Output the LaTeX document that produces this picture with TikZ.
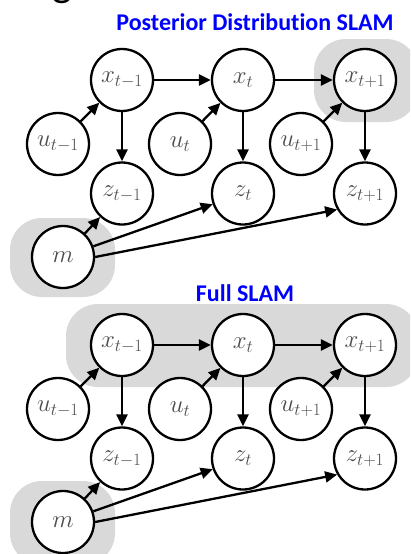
\documentclass[tikz,border=0pt]{standalone}
\usepackage{fontspec}
\newfontfamily\calibri[Ligatures={NoCommon}]{Carlito}
\usetikzlibrary{arrows.meta}
\definecolor{shade}{HTML}{D9D9D9}
\definecolor{titleblue}{RGB}{0,0,255}
\tikzset{
  var/.style={circle, draw=black, line width=2.3pt, fill=white,
    minimum size=62pt, inner sep=0pt,
    font=\fontsize{23}{25}\selectfont, text=black!70},
  edge/.style={line width=2.3pt, -{Triangle[length=12pt,width=11pt]}},
  blob/.style={fill=shade, rounded corners=32pt},
  heading/.style={text=titleblue, font=\calibri\bfseries\fontsize{24}{26}\selectfont}
}
% one time slice network: poses x, controls u, measurements z, map m
\newcommand\slamnet[1]{%
  \node[var] (#1x0) at (122,80)    {$x_{t-1}$};
  \node[var] (#1x1) at (243,80)    {$x_{t}$};
  \node[var] (#1x2) at (365,80)    {$x_{t+1}$};
  \node[var] (#1u0) at (58,144)    {$u_{t-1}$};
  \node[var] (#1u1) at (180,144)   {$u_{t}$};
  \node[var] (#1u2) at (301,144)   {$u_{t+1}$};
  \node[var] (#1z0) at (122,193.5) {$z_{t-1}$};
  \node[var] (#1z1) at (243,193.5) {$z_{t}$};
  \node[var] (#1z2) at (365,193.5) {$z_{t+1}$};
  \node[var] (#1m)  at (63,257)    {$m$};
  \draw[edge] (#1x0) -- (#1x1);
  \draw[edge] (#1x1) -- (#1x2);
  \draw[edge] (#1u0) -- (#1x0);
  \draw[edge] (#1u1) -- (#1x1);
  \draw[edge] (#1u2) -- (#1x2);
  \draw[edge] (#1x0) -- (#1z0);
  \draw[edge] (#1x1) -- (#1z1);
  \draw[edge] (#1x2) -- (#1z2);
  \draw[edge] (#1m) -- (#1z0);
  \draw[edge] (#1m) -- (#1z1);
  \draw[edge] (#1m.east) -- (#1z2.210);
}
\begin{document}
\begin{tikzpicture}[x=1pt, y=-1pt]
  \clip (0,0) rectangle (410,554);
  \fill[white] (0,0) rectangle (410,554);
  % tail of the slide heading
  \node[anchor=base, font=\calibri\fontsize{42}{42}\selectfont, inner sep=0pt] (hg) at (62,-4) {g};

  % posterior over the latest pose and the map
  \node[heading] (t1) at (255,22) {Posterior Distribution SLAM};
  \fill[blob] (314,39) rectangle (418,122);
  \fill[blob] (10,218) rectangle (115,297);
  \slamnet{a}

  % full trajectory and the map
  \node[heading] (t2) at (245,293) {Full SLAM};
  \begin{scope}[shift={(0,265)}]
    \fill[blob] (66,39) rectangle (418,122);
    \fill[blob] (10,216) rectangle (115,300);
    \slamnet{b}
  \end{scope}
\end{tikzpicture}
\end{document}
